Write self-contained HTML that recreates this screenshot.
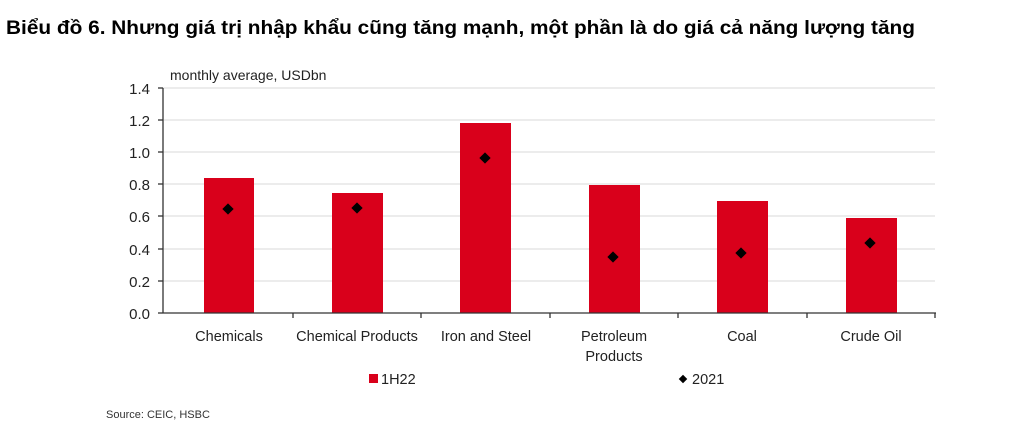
<!DOCTYPE html>
<html><head><meta charset="utf-8"><style>
body{margin:0;background:#fff;width:1024px;height:436px;overflow:hidden}
</style></head><body>
<svg width="1024" height="436" xmlns="http://www.w3.org/2000/svg" font-family="Liberation Sans, sans-serif">
<text x="6" y="34" font-size="19" font-weight="bold" fill="#000" textLength="909" lengthAdjust="spacingAndGlyphs" font-family="Liberation Sans, DejaVu Sans, sans-serif">Biểu đồ 6. Nhưng giá trị nhập khẩu cũng tăng mạnh, một phần là do giá cả năng lượng tăng</text>
<text x="170" y="80" font-size="14" fill="#222">monthly  average, USDbn</text>
<g stroke="#d9d9d9" stroke-width="1">
<line x1="163" x2="935" y1="88" y2="88"/><line x1="163" x2="935" y1="120" y2="120"/>
<line x1="163" x2="935" y1="152" y2="152"/><line x1="163" x2="935" y1="184" y2="184"/>
<line x1="163" x2="935" y1="216" y2="216"/><line x1="163" x2="935" y1="249" y2="249"/>
<line x1="163" x2="935" y1="281" y2="281"/>
</g>
<g fill="#d9001b">
<rect x="204" y="178" width="50" height="135"/>
<rect x="332" y="193" width="51" height="120"/>
<rect x="460" y="123" width="51" height="190"/>
<rect x="589" y="185" width="51" height="128"/>
<rect x="717" y="201" width="51" height="112"/>
<rect x="846" y="218" width="51" height="95"/>
</g>
<g fill="#000">
<rect x="224" y="205" width="8" height="8" transform="rotate(45 228 209)"/>
<rect x="353" y="204" width="8" height="8" transform="rotate(45 357 208)"/>
<rect x="481" y="154" width="8" height="8" transform="rotate(45 485 158)"/>
<rect x="609" y="253" width="8" height="8" transform="rotate(45 613 257)"/>
<rect x="737" y="249" width="8" height="8" transform="rotate(45 741 253)"/>
<rect x="866" y="239" width="8" height="8" transform="rotate(45 870 243)"/>
</g>
<g stroke="#333" stroke-width="1.3">
<line x1="163" x2="163" y1="88" y2="313"/><line x1="163" x2="936" y1="313" y2="313"/>
<line x1="158" x2="163" y1="88" y2="88"/><line x1="158" x2="163" y1="120" y2="120"/>
<line x1="158" x2="163" y1="152" y2="152"/><line x1="158" x2="163" y1="184" y2="184"/>
<line x1="158" x2="163" y1="216" y2="216"/><line x1="158" x2="163" y1="249" y2="249"/>
<line x1="158" x2="163" y1="281" y2="281"/><line x1="158" x2="163" y1="313" y2="313"/>
<line x1="293" x2="293" y1="313" y2="318"/><line x1="421" x2="421" y1="313" y2="318"/>
<line x1="550" x2="550" y1="313" y2="318"/><line x1="678" x2="678" y1="313" y2="318"/>
<line x1="807" x2="807" y1="313" y2="318"/><line x1="935" x2="935" y1="313" y2="318"/>
</g>
<g font-size="15" fill="#222" text-anchor="end">
<text x="150" y="94">1.4</text><text x="150" y="126">1.2</text><text x="150" y="158">1.0</text>
<text x="150" y="190">0.8</text><text x="150" y="222">0.6</text><text x="150" y="255">0.4</text>
<text x="150" y="287">0.2</text><text x="150" y="319">0.0</text>
</g>
<g font-size="14.5" fill="#222" text-anchor="middle">
<text x="229" y="341">Chemicals</text><text x="357" y="341">Chemical Products</text>
<text x="486" y="341">Iron and Steel</text><text x="614" y="341">Petroleum</text>
<text x="614" y="361">Products</text><text x="742" y="341">Coal</text><text x="871" y="341">Crude Oil</text>
</g>
<rect x="369" y="374" width="9" height="9" fill="#d9001b"/>
<text x="381" y="384" font-size="14.5" fill="#222">1H22</text>
<rect x="680" y="376" width="6" height="6" fill="#000" transform="rotate(45 683 379)"/>
<text x="692" y="384" font-size="14.5" fill="#222">2021</text>
<text x="106" y="418" font-size="11" fill="#333">Source: CEIC, HSBC</text>
</svg>
</body></html>
